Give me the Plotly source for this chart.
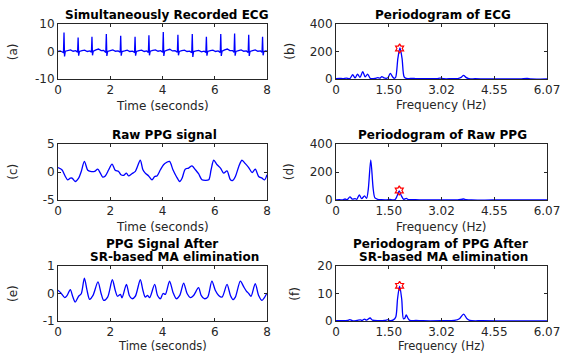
import numpy as np
import plotly.graph_objects as go

# ---------------- data ----------------
ecg_t = [0.00, 0.08, 0.15, 0.21, 0.23, 0.25, 0.28, 0.38, 0.48, 0.58, 0.68, 0.75, 0.77, 0.79, 0.82,
         0.92, 1.02, 1.12, 1.22, 1.28, 1.30, 1.32, 1.35, 1.45, 1.55, 1.65, 1.75, 1.83, 1.85, 1.87,
         1.90, 2.00, 2.10, 2.20, 2.30, 2.38, 2.40, 2.42, 2.45, 2.55, 2.65, 2.75, 2.85, 2.93, 2.95,
         2.97, 3.00, 3.10, 3.20, 3.30, 3.40, 3.46, 3.48, 3.50, 3.53, 3.63, 3.73, 3.83, 3.93, 4.01,
         4.03, 4.05, 4.08, 4.18, 4.28, 4.38, 4.48, 4.57, 4.59, 4.61, 4.64, 4.74, 4.84, 4.94, 5.04,
         5.12, 5.14, 5.16, 5.19, 5.29, 5.39, 5.49, 5.59, 5.66, 5.68, 5.70, 5.73, 5.83, 5.93, 6.03,
         6.13, 6.21, 6.23, 6.25, 6.28, 6.38, 6.48, 6.58, 6.68, 6.74, 6.76, 6.78, 6.81, 6.91, 7.01,
         7.11, 7.21, 7.28, 7.30, 7.32, 7.35, 7.45, 7.55, 7.65, 7.75, 7.81, 7.83, 7.85, 7.88, 7.95, 8.00]
ecg_v = [0.0, 0.2, -0.1, -0.4, 6.9, -1.8, 0.1, 0.4, 0.6, 0.1, 0.3, -0.3, 5.1, -1.5, 0.0,
         0.3, 0.5, 0.0, 0.2, -0.3, 5.4, -1.4, 0.1, 0.6, 0.9, 0.3, 0.4, -0.4, 6.4, -1.6,
         0.0, 0.3, 0.6, 0.1, 0.2, -0.3, 5.7, -1.5, 0.0, 0.2, 0.5, 0.0, 0.1, -0.3, 5.4,
         -1.5, 0.0, 0.3, 0.5, 0.0, 0.2, -0.4, 5.9, -1.4, 0.1, 0.4, 0.6, 0.1, 0.3, -0.3,
         7.1, -1.6, 0.1, 0.5, 0.8, 0.2, 0.3, -0.3, 6.1, -1.4, 0.0, 0.3, 0.5, 0.0, 0.1,
         -0.4, 6.4, -2.0, 0.0, 0.2, 0.4, -0.1, 0.1, -0.3, 5.4, -1.5, 0.0, 0.3, 0.5, 0.0,
         0.2, -0.4, 6.4, -1.6, 0.1, 0.6, 0.9, 0.3, 0.3, -0.3, 6.5, -1.5, 0.0, 0.3, 0.6,
         0.1, 0.2, -0.4, 6.1, -1.6, 0.0, 0.3, 0.6, 0.1, 0.2, -0.3, 5.4, -1.4, 0.0, 0.2, 0.1]

raw_t = [0.00, 0.15, 0.28, 0.37, 0.47, 0.54, 0.66, 0.79, 0.89, 1.01, 1.14, 1.24, 1.40, 1.52, 1.62,
         1.71, 1.81, 1.94, 2.07, 2.19, 2.32, 2.41, 2.51, 2.62, 2.70, 2.83, 2.96, 3.15, 3.25, 3.34,
         3.47, 3.60, 3.70, 3.79, 3.92, 4.04, 4.15, 4.27, 4.40, 4.53, 4.66, 4.75, 4.87, 5.00, 5.13,
         5.26, 5.38, 5.51, 5.64, 5.77, 5.86, 5.96, 6.09, 6.22, 6.34, 6.47, 6.60, 6.69, 6.79, 6.92,
         7.04, 7.17, 7.30, 7.43, 7.55, 7.68, 7.81, 7.91, 8.00]
raw_v = [0.8, 0.4, -0.8, -1.4, -1.1, -1.1, -1.7, -1.1, 0.1, 1.9, 0.3, 0.1, 0.1, 0.5, -0.2,
         -0.9, -0.7, 0.4, 1.4, 0.3, 0.1, -0.5, -0.6, -0.2, -0.7, -0.3, 0.1, 2.1, 0.4, -0.2,
         -0.7, -1.4, -0.8, -0.7, 0.4, 1.3, 1.7, 1.9, 0.4, -0.8, -1.7, -1.1, 0.5, 0.7, 1.1,
         0.4, -0.3, -1.4, -1.5, -1.4, 0.4, 2.1, 1.3, 0.7, -0.2, 0.2, -1.4, -1.5, -0.8, 1.0,
         2.1, 1.5, 0.8, -0.1, 0.5, -0.8, -1.1, -1.4, -0.5]

clean_t = [0.00, 0.11, 0.26, 0.35, 0.47, 0.57, 0.66, 0.79, 0.89, 1.01, 1.11, 1.21, 1.34, 1.53, 1.65,
           1.75, 1.90, 2.08, 2.19, 2.28, 2.39, 2.45, 2.62, 2.73, 2.83, 2.96, 3.15, 3.25, 3.34, 3.43,
           3.51, 3.70, 3.81, 3.92, 4.02, 4.11, 4.27, 4.40, 4.53, 4.66, 4.81, 4.94, 5.07, 5.19, 5.38,
           5.48, 5.60, 5.73, 5.89, 6.02, 6.15, 6.28, 6.47, 6.60, 6.70, 6.79, 6.98, 7.11, 7.21, 7.30,
           7.39, 7.55, 7.68, 7.81, 7.90, 8.00]
clean_v = [0.12, 0.02, -0.15, -0.07, 0.14, -0.13, -0.31, -0.10, -0.01, 0.56, 0.12, -0.21, -0.07, 0.42, 0.00,
           -0.25, -0.13, 0.50, 0.12, -0.10, -0.03, -0.16, 0.33, -0.07, -0.19, -0.10, 0.50, 0.12, -0.13, -0.07,
           -0.15, 0.33, -0.07, -0.19, 0.00, -0.03, 0.45, 0.05, -0.19, -0.07, 0.38, 0.00, -0.15, -0.07, 0.21,
           -0.07, -0.19, -0.13, 0.45, 0.12, -0.07, -0.13, 0.33, -0.07, -0.22, -0.13, 0.45, 0.24, 0.09, 0.00,
           -0.10, 0.36, -0.07, -0.25, -0.15, 0.02]

ecg_f = [0.00, 0.10, 0.20, 0.30, 0.40, 0.48, 0.55, 0.62, 0.69, 0.77, 0.84, 0.91, 0.98, 1.05, 1.12,
         1.20, 1.26, 1.32, 1.38, 1.45, 1.50, 1.56, 1.63, 1.68, 1.72, 1.78, 1.84, 1.90, 1.96, 2.02,
         2.10, 2.20, 2.30, 2.50, 2.70, 2.90, 3.00, 3.10, 3.30, 3.50, 3.60, 3.67, 3.74, 3.82, 4.00,
         4.30, 4.60, 5.00, 5.30, 5.50, 5.60, 6.07]
ecg_p = [2, 4, 3, 6, 3, 31, 8, 36, 12, 53, 15, 36, 6, 3, 4,
         10, 6, 17, 8, 5, 12, 41, 15, 5, 15, 150, 226, 150, 15, 4,
         3, 5, 2, 3, 2, 3, 7, 2, 2, 3, 12, 27, 12, 2, 2,
         1, 1, 1, 1, 5, 1, 0]

raw_f = [0.00, 0.10, 0.20, 0.26, 0.32, 0.40, 0.47, 0.55, 0.60, 0.67, 0.74, 0.82, 0.88, 0.93, 1.00,
         1.07, 1.12, 1.20, 1.30, 1.45, 1.55, 1.62, 1.70, 1.76, 1.82, 1.88, 1.95, 2.02, 2.08, 2.20,
         2.40, 2.70, 3.00, 3.50, 3.60, 3.67, 3.74, 3.90, 4.50, 6.07]
raw_p = [0, 2, 1, 7, 2, 22, 6, 10, 5, 36, 10, 29, 12, 80, 287,
         80, 15, 5, 2, 1, 4, 1, 3, 30, 65, 30, 4, 12, 3, 3,
         1, 1, 1, 1, 4, 7, 3, 0, 0, 0]

clean_f = [0.00, 0.20, 0.33, 0.40, 0.47, 0.60, 0.70, 0.75, 0.82, 0.88, 0.98, 1.05, 1.20, 1.40, 1.50,
           1.56, 1.65, 1.72, 1.77, 1.83, 1.89, 1.94, 1.98, 2.02, 2.07, 2.12, 2.30, 2.50, 3.00, 3.40,
           3.55, 3.67, 3.77, 3.85, 4.20, 5.00, 6.07]
clean_p = [0.1, 0.1, 0.2, 0.5, 0.1, 0.2, 0.4, 0.2, 0.7, 0.3, 1.1, 0.3, 0.1, 0.2, 0.5,
           0.1, 0.4, 1.5, 8.0, 12.7, 8.0, 0.8, 1.0, 2.2, 1.0, 0.2, 0.2, 0.1, 0.1, 0.2,
           0.8, 2.5, 0.8, 0.2, 0.1, 0.05, 0.0]

# detected heart-rate peaks (star markers)
hr_f = [1.83, 1.82, 1.83]
hr_p = [222, 68, 12.8]

time_ticks = [0, 2, 4, 6, 8]
freq_ticktext = ["0", "1.50", "3.02", "4.55", "6.07"]
freq_max = 6.07

# ---------------- layout helpers ----------------
W, H = 564, 354
BLUE = "#0000ff"
AXC = "#262626"
FONT = "DejaVu Sans"

def px_x(p):
    return p / W

def px_y(p):
    return 1 - p / H

cols = {"L": (58, 267), "R": (336, 547)}
rows = [(24, 79), (144, 200), (266, 321)]

fig = go.Figure()

panels = [
    (0, "L", ecg_t, ecg_v, "linear", [-10, 10], [-10, 0, 10], ["-10", "0", "10"], "time"),
    (0, "R", ecg_f, ecg_p, "spline", [0, 400], [0, 200, 400], ["0", "200", "400"], "freq"),
    (1, "L", raw_t, raw_v, "spline", [-5, 5], [-5, 0, 5], ["-5", "0", "5"], "time"),
    (1, "R", raw_f, raw_p, "spline", [0, 400], [0, 200, 400], ["0", "200", "400"], "freq"),
    (2, "L", clean_t, clean_v, "spline", [-1, 1], [-1, 0, 1], ["-1", "0", "1"], "time"),
    (2, "R", clean_f, clean_p, "spline", [0, 20], [0, 10, 20], ["0", "10", "20"], "freq"),
]

freq_tickvals = list(np.linspace(0, freq_max, len(freq_ticktext)))

star_i = 0
for i, (r, c, xs, ys, shape, yr, ytv, ytt, kind) in enumerate(panels):
    n = i + 1
    xa = "xaxis" if n == 1 else f"xaxis{n}"
    ya = "yaxis" if n == 1 else f"yaxis{n}"
    xref = "x" if n == 1 else f"x{n}"
    yref = "y" if n == 1 else f"y{n}"
    x0, x1 = cols[c]
    top, bot = rows[r]
    fig.add_trace(go.Scatter(x=xs, y=ys, mode="lines", xaxis=xref, yaxis=yref,
                             line=dict(color=BLUE, width=1.3, shape=shape, smoothing=0.8),
                             showlegend=False, hoverinfo="skip"))
    if kind == "freq":
        fig.add_trace(go.Scatter(x=[hr_f[star_i]], y=[hr_p[star_i]], mode="markers",
                                 xaxis=xref, yaxis=yref,
                                 marker=dict(symbol="hexagram-open", size=7, color="red",
                                             line=dict(color="red", width=1.2)),
                                 showlegend=False, hoverinfo="skip", cliponaxis=False))
        star_i += 1
        xtv, xtt, xr = freq_tickvals, freq_ticktext, [0, freq_max]
    else:
        xtv, xtt, xr = time_ticks, [str(v) for v in time_ticks], [0, 8]
    common = dict(showline=True, linecolor=AXC, linewidth=1, mirror="ticks",
                  ticks="inside", ticklen=3, tickcolor=AXC, showgrid=False, zeroline=False,
                  automargin=False,
                  tickfont=dict(family=FONT, size=12, color=AXC), fixedrange=True)
    fig.layout[xa] = dict(domain=[px_x(x0), px_x(x1)], anchor=yref, range=xr,
                          tickmode="array", tickvals=xtv, ticktext=xtt, **common)
    fig.layout[ya] = dict(domain=[px_y(bot), px_y(top)], anchor=xref, range=yr,
                          tickmode="array", tickvals=ytv, ticktext=ytt, **common)

ann = []

def add_text(txt, x, y, size=12, bold=False, angle=0, color=AXC):
    ann.append(dict(text=f"<b>{txt}</b>" if bold else txt, x=px_x(x), y=px_y(y),
                    xref="paper", yref="paper", xanchor="center", yanchor="middle",
                    showarrow=False, textangle=angle,
                    font=dict(family=FONT, size=size, color=color)))

TS = 12
# titles
add_text("Simultaneously Recorded ECG", 166, 15, TS, True, color="black")
add_text("Periodogram of ECG", 443, 15, TS, True, color="black")
add_text("Raw PPG signal", 164, 135, TS, True, color="black")
add_text("Periodogram of Raw PPG", 442, 135, TS, True, color="black")
add_text("PPG Signal After", 162, 244, TS, True, color="black")
add_text("SR-based MA elimination", 174, 256.7, TS, True, color="black")
add_text("Periodogram of PPG After", 440, 244, TS, True, color="black")
add_text("SR-based MA elimination", 443, 256.7, TS, True, color="black")

# x labels
add_text("Time (seconds)", 162.5, 106)
add_text("Frequency (Hz)", 441.5, 105)
add_text("Time (seconds)", 162.5, 226.7)
add_text("Frequency (Hz)", 441.5, 226.7)
add_text("Time (seconds)", 162.5, 345.5, 11.5)
add_text("Frequency (Hz)", 441.5, 345.5, 11.5)

# y labels
add_text("(a)", 12.7, 51.5, angle=-90)
add_text("(b)", 289.3, 51.5, angle=-90)
add_text("(c)", 12.7, 172, angle=-90)
add_text("(d)", 289.3, 172, angle=-90)
add_text("(e)", 13, 294, angle=-90)
add_text("(f)", 294.7, 294, angle=-90)

fig.update_layout(width=W, height=H, margin=dict(l=0, r=0, t=0, b=0, autoexpand=False),
                  paper_bgcolor="white", plot_bgcolor="white",
                  annotations=ann, showlegend=False)

fig.write_html("out.html", config={"displayModeBar": False})
